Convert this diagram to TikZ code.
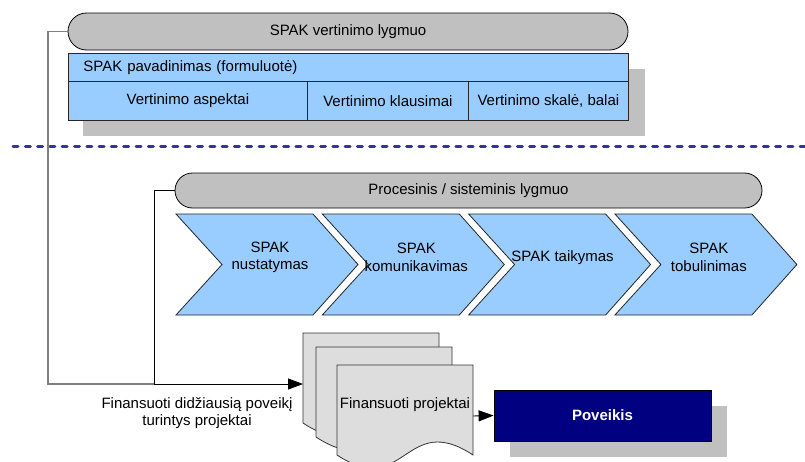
\documentclass[tikz,border=0pt]{standalone}
\usepackage{fontspec}
\setmainfont{Liberation Sans}
\usetikzlibrary{shapes.misc,arrows.meta}

\definecolor{barGray}{HTML}{C0C0C0}
\definecolor{cellBlue}{HTML}{99CCFF}
\definecolor{docGray}{HTML}{DDDDDD}
\definecolor{navyFill}{HTML}{000080}
\definecolor{sepBlue}{HTML}{333399}
\definecolor{linkGray}{HTML}{7F7F7F}

\tikzset{
  levelbar/.style={rounded rectangle, draw=black, fill=barGray, line width=0.8pt, inner sep=0pt},
  cell/.style={draw=black!85, fill=cellBlue, line width=0.8pt, inner sep=0pt},
  shadowfill/.style={fill=barGray},
  docshape/.style={draw=black!80, fill=docGray, line width=0.8pt},
  plain/.style={inner sep=0pt, align=center},
  tip/.style={-{Triangle[length=15pt,width=11pt]}},
}

\begin{document}
\begin{tikzpicture}[x=1pt, y=-1pt, font=\fontsize{15}{17.5}\selectfont]
\useasboundingbox (0,0) rectangle (805,461);

% --- evaluation level -------------------------------------------------
\fill[shadowfill] (83,69) rectangle (645,136);
\node[levelbar, minimum width=560pt, minimum height=37pt] (toplevel) at (348,31.5) {SPAK vertinimo lygmuo};
\node[cell, anchor=north west, minimum width=560pt, minimum height=28pt,
      text width=530pt, inner xsep=15pt, align=left] (title) at (68,53) {SPAK pavadinimas (formuluotė)};
\node[cell, anchor=north west, minimum width=239pt, minimum height=39pt] (aspects) at (68,81) {Vertinimo aspektai};
\node[cell, anchor=north west, minimum width=161pt, minimum height=39pt] (questions) at (307,81) {Vertinimo klausimai};
\node[cell, anchor=north west, minimum width=160pt, minimum height=39pt] (scale) at (468,81) {Vertinimo skalė, balai};

% --- separator ------------------------------------------------------------
\coordinate (sepL) at (13,146);
\coordinate (sepR) at (805,146);
\draw[sepBlue, line width=3pt, line cap=round, dash pattern=on 5pt off 7.3pt] (sepL) -- (sepR);

% --- process level ------------------------------------------------------
\node[levelbar, minimum width=587pt, minimum height=35pt] (proclevel) at (468.5,190.5) {Procesinis / sisteminis lygmuo};

\foreach \i/\txt in {0/{SPAK\\nustatymas}, 1/{SPAK\\komunikavimas}, 2/{SPAK taikymas}, 3/{SPAK\\tobulinimas}} {
  \pgfmathsetmacro\L{176+146.3*\i}
  \draw[cell] (\L,214) -- ++(137,0) -- ++(45,50.5) -- ++(-45,50.5) -- ++(-137,0) -- ++(46,-50.5) -- cycle;
  \node[plain] (stage\i) at (\L+94,257.5) {\txt};
}

% --- funded projects (stacked documents) --------------------------------
\draw[docshape] (303,333) -- (439,333) -- (439,423) .. controls (371,378) and (371,468) .. (303,423) -- cycle;
\draw[docshape] (316,347) -- (452,347) -- (452,437) .. controls (384,392) and (384,482) .. (316,437) -- cycle;
\draw[docshape] (337,365) -- (473,365) -- (473,455) .. controls (405,410) and (405,500) .. (337,455) -- cycle;
\node[plain] (projects) at (405,405) {Finansuoti projektai};
\coordinate (docin) at (303,384);
\coordinate (docout) at (473,416);

% --- impact -----------------------------------------------------------------
\fill[shadowfill] (510,406) rectangle (727,457);
\node[draw=black, line width=0.8pt, fill=navyFill, text=white, font=\fontsize{15}{17.5}\selectfont\bfseries,
      minimum width=217pt, minimum height=51pt] (impact) at (602.5,415.5) {Poveikis};

% --- connectors ---------------------------------------------------------------
\coordinate (bendA) at (48,384);
\coordinate (bendB) at (154,384);
\draw[linkGray, line width=1.5pt] (toplevel.west) -| (bendA) -- (bendB);
\draw[black, line width=0.9pt, tip] (proclevel.west) -| (bendB) -- (docin);
\draw[black, line width=0.9pt, tip] (docout) -- (impact.west);

\node[plain] (fundtext) at (197,413) {Finansuoti didžiausią poveikį\\turintys projektai};
\end{tikzpicture}
\end{document}
